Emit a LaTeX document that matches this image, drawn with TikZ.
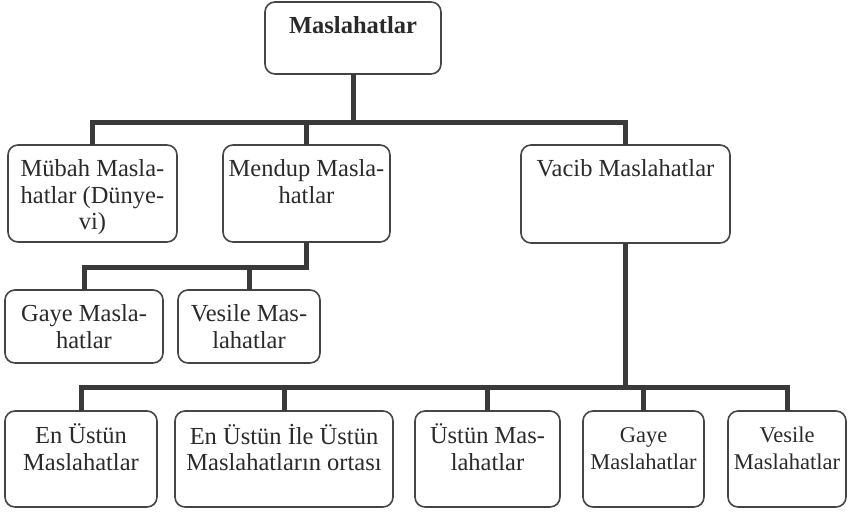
\documentclass[tikz,border=0pt]{standalone}
\usepackage{fontspec}
\setmainfont{Liberation Serif}
\usetikzlibrary{positioning,calc}
\definecolor{linegray}{HTML}{3A3A3A}
\definecolor{boxgray}{HTML}{454545}
\definecolor{textgray}{HTML}{2A2A2A}
\newcommand{\boxtxt}[3]{\parbox[t][#2][t]{#1}{\centering\vspace*{13pt}\strut #3\par}}

\begin{document}
\begin{tikzpicture}[
    x=1pt, y=-1pt,
    box/.style={draw=boxgray, line width=1.6pt, rounded corners=10pt, inner sep=0pt, outer sep=0pt,
        anchor=north west, text=textgray, font=\fontsize{24.5}{26.5}\selectfont},
    narrowbox/.style={box, font=\fontsize{22.5}{26.5}\selectfont},
    link/.style={draw=linegray, line width=5pt}
]
    \useasboundingbox (0,0) rectangle (848,514);

    % Root node
    \node[box] (root) at (265,2) {\boxtxt{176pt}{72pt}{\textbf{Maslahatlar}}};

    % Level 1
    \node[box] (mubah) at (8,145) {\boxtxt{169pt}{97pt}{Mübah Masla-\\hatlar (Dünye-\\vi)}};
    \node[box] (mendup) at (223,145) {\boxtxt{167pt}{97pt}{Mendup Masla-\\hatlar}};
    \node[box] (vacib) at (521,145) {\boxtxt{209pt}{98pt}{Vacib Maslahatlar}};

    % Level 2
    \node[box] (gaye1) at (5,290) {\boxtxt{158pt}{73pt}{Gaye Masla-\\hatlar}};
    \node[box] (vesile1) at (178,290) {\boxtxt{142pt}{73pt}{Vesile Mas-\\lahatlar}};

    % Level 3
    \node[box] (enustun) at (5,411) {\boxtxt{152pt}{96pt}{En Üstün\\Maslahatlar}};
    \node[box] (orta) at (175,411) {\boxtxt{218pt}{96pt}{En Üstün İle Üstün\\Maslahatların ortası}};
    \node[box] (ustun) at (415,411) {\boxtxt{145pt}{96pt}{Üstün Mas-\\lahatlar}};
    \node[narrowbox] (gaye2) at (583,411) {\boxtxt{121pt}{96pt}{Gaye\\Maslahatlar}};
    \node[narrowbox] (vesile2) at (728,411) {\boxtxt{118pt}{96pt}{Vesile\\Maslahatlar}};

    % Buses
    \coordinate (bus1) at (0,122);
    \coordinate (bus2) at (0,267);
    \coordinate (bus3) at (0,387);

    % Root to level 1
    \draw[link] (root.south) -- (root.south |- bus1);
    \draw[link] (mubah.north) -- (mubah.north |- bus1) -| (vacib.north);
    \draw[link] (mendup.north) -- (mendup.north |- bus1);

    % Mendup to level 2
    \draw[link] (mendup.south) -- (mendup.south |- bus2) -| (gaye1.north);
    \draw[link] (vesile1.north) -- (vesile1.north |- bus2);

    % Vacib to level 3
    \draw[link] (vacib.south) -- (vacib.south |- bus3);
    \draw[link] (enustun.north) -- (enustun.north |- bus3) -| (vesile2.north);
    \foreach \n in {orta,ustun,gaye2}
        \draw[link] (\n.north) -- (\n.north |- bus3);
\end{tikzpicture}
\end{document}
